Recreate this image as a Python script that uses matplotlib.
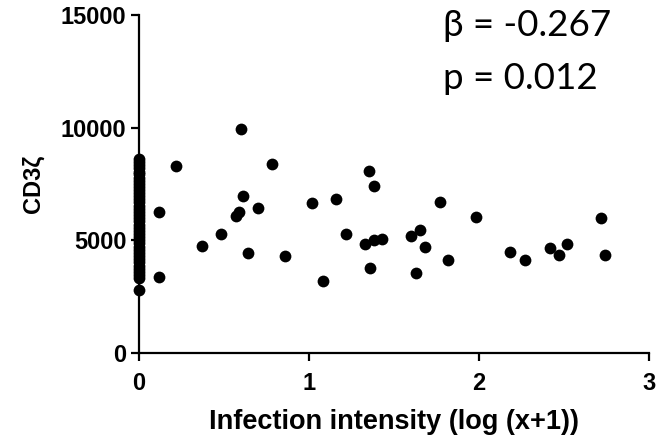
import matplotlib
matplotlib.use("Agg")
import matplotlib.pyplot as plt

# Infected individuals: infection intensity (log(x+1)) vs CD3zeta
x_inf = [0.12, 0.12, 0.22, 0.37, 0.48, 0.57, 0.59, 0.61, 0.60, 0.64, 0.70, 0.78,
         0.86, 1.02, 1.08, 1.16, 1.22, 1.33, 1.35, 1.36, 1.38, 1.38, 1.43, 1.60,
         1.63, 1.65, 1.68, 1.77, 1.82, 1.98, 2.18, 2.27, 2.42, 2.47, 2.52, 2.72, 2.74]
y_inf = [6260, 3370, 8300, 4750, 5280, 6080, 6260, 6970, 9940, 4440, 6440, 8390,
         4310, 6660, 3200, 6840, 5280, 4840, 8080, 3770, 7410, 5020, 5080, 5190,
         3550, 5460, 4700, 6700, 4130, 6040, 4480, 4130, 4660, 4350, 4840, 5990, 4350]

# Uninfected individuals (x = 0)
y_zero = [8600, 8480, 8330, 8200, 8050, 7930, 7780, 7640, 7500, 7380, 7220, 7100,
          6950, 6820, 6680, 6530, 6400, 6260, 6120, 5980, 5850, 5700, 5560, 5430,
          5290, 5150, 5000, 4870, 4720, 4580, 4450, 4300, 4170, 4020, 3880, 3730,
          3600, 3450, 3320, 2780]
x_zero = [0.0] * len(y_zero)

x_ticks = [0, 1, 2, 3]
y_ticks = [0, 5000, 10000, 15000]
beta_text = "β = -0.267"
p_text = "p = 0.012"

fig = plt.figure(figsize=(6.61, 4.40), dpi=100)
ax = fig.add_axes([139/661, 1 - 353/440, 510/661, 338/440])

ax.scatter(x_zero, y_zero, s=72, color="black", clip_on=False, zorder=3, linewidths=0)
ax.scatter(x_inf, y_inf, s=72, color="black", clip_on=False, zorder=3, linewidths=0)

ax.set_xlim(0, 3)
ax.set_ylim(0, 15000)
ax.set_xticks(x_ticks)
ax.set_yticks(y_ticks)

for side in ["top", "right"]:
    ax.spines[side].set_visible(False)
for side in ["left", "bottom"]:
    ax.spines[side].set_linewidth(1.6)

ax.tick_params(axis="both", direction="out", length=6, width=1.6)
ax.tick_params(axis="y", pad=3)
ax.tick_params(axis="x", pad=8)
for lab in ax.get_xticklabels() + ax.get_yticklabels():
    lab.set_fontfamily("Liberation Sans")
    lab.set_fontweight("bold")
    lab.set_fontsize(17)

ax.set_xlabel("Infection intensity (log (x+1))", fontsize=19.5, fontweight="bold",
              family="Liberation Sans", labelpad=10)
ax.set_ylabel("CD3ζ", fontsize=17, fontweight="bold",
              family=["Liberation Sans", "DejaVu Sans"], labelpad=12)

ax.text(443/661, 1 - 36/440, beta_text, transform=fig.transFigure, fontsize=26.5,
        family=["Lato", "DejaVu Sans"], ha="left", va="baseline")
ax.text(443/661, 1 - 89/440, p_text, transform=fig.transFigure, fontsize=26.5,
        family=["Lato", "DejaVu Sans"], ha="left", va="baseline")

fig.savefig("out.png", dpi=100)
